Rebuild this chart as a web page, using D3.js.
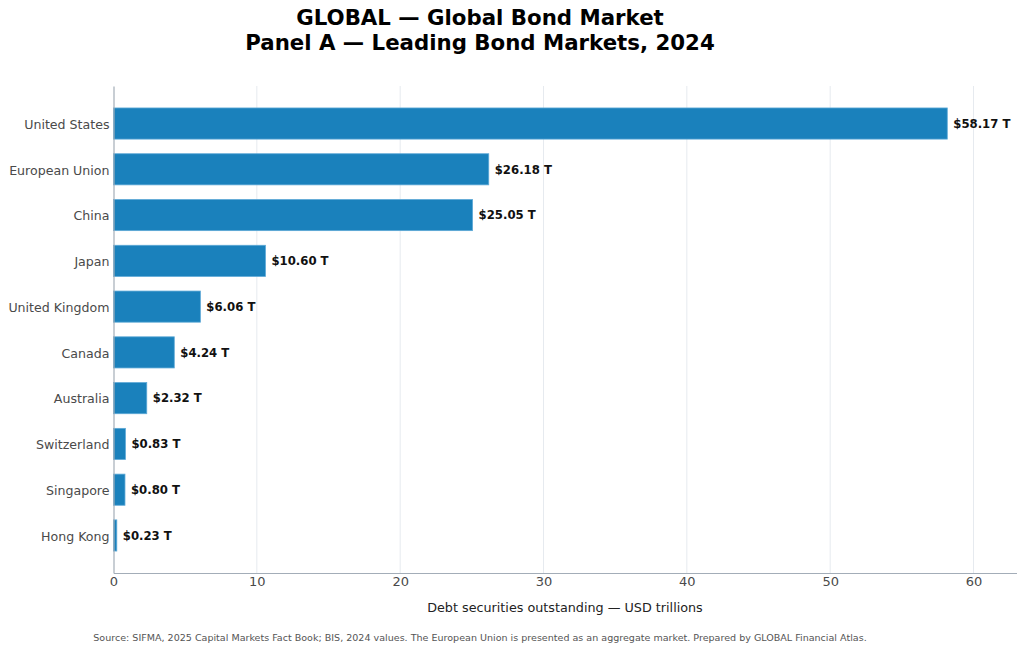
<!DOCTYPE html>
<html>
<head>
<meta charset="utf-8">
<script src="https://cdn.jsdelivr.net/npm/d3@7"></script>
<style>
  body { margin: 0; background: #fff; }
  svg { display: block; font-family: "DejaVu Sans", sans-serif; }
</style>
</head>
<body>
<script>
const markets = [
  "United States",
  "European Union",
  "China",
  "Japan",
  "United Kingdom",
  "Canada",
  "Australia",
  "Switzerland",
  "Singapore",
  "Hong Kong",
];
const outstanding = [58.17, 26.18, 25.05, 10.6, 6.06, 4.24, 2.32, 0.83, 0.8, 0.23];
const xTicks = [0, 10, 20, 30, 40, 50, 60];

const data = markets.map((name, i) => ({ name, value: outstanding[i] }));

const width = 1024;
const height = 651;
const plot = { left: 113.5, right: 1016.5, top: 86, bottom: 573 };

const xScale = d3.scaleLinear().domain([0, 63]).range([plot.left, plot.right]);

const yScale = d3
  .scaleBand()
  .domain(markets)
  .range([plot.top, plot.bottom])
  .paddingInner(0.32)
  .paddingOuter(0.48);

const svg = d3
  .select("body")
  .append("svg")
  .attr("width", width)
  .attr("height", height);

// grid
svg
  .append("g")
  .selectAll("line")
  .data(xTicks.slice(1))
  .enter()
  .append("line")
  .attr("x1", (d) => xScale(d))
  .attr("x2", (d) => xScale(d))
  .attr("y1", plot.top)
  .attr("y2", plot.bottom)
  .attr("stroke", "#e6eaef")
  .attr("stroke-width", 1);

// bars
const groups = svg
  .append("g")
  .selectAll("g")
  .data(data)
  .enter()
  .append("g")
  .attr("transform", (d) => `translate(0 ${yScale(d.name)})`);

groups
  .append("rect")
  .attr("x", xScale(0))
  .attr("width", (d) => xScale(d.value) - xScale(0))
  .attr("height", yScale.bandwidth())
  .attr("fill", "#1a81bc")
  .attr("stroke", "#5ca8d6")
  .attr("stroke-width", 0.8);

groups
  .append("text")
  .attr("x", (d) => xScale(d.value) + 6)
  .attr("y", yScale.bandwidth() / 2)
  .attr("dy", "0.37em")
  .text((d) => `$${d.value.toFixed(2)} T`)
  .attr("font-size", 11.7)
  .attr("font-weight", "bold")
  .attr("fill", "#111");

// axes
const xAxis = d3.axisBottom(xScale).tickValues(xTicks).tickSize(0).tickPadding(4);
const yAxis = d3.axisLeft(yScale).tickSize(0).tickPadding(4);

const gx = svg
  .append("g")
  .attr("transform", `translate(0 ${plot.bottom})`)
  .call(xAxis);
gx.select(".domain").attr("stroke", "#a3adb8").attr("stroke-width", 1.2);
gx.selectAll("text")
  .attr("font-size", 13)
  .attr("font-family", "DejaVu Sans, sans-serif")
  .attr("fill", "#4a4a4a");

const gy = svg
  .append("g")
  .attr("transform", `translate(${plot.left} 0)`)
  .call(yAxis);
gy.select(".domain").attr("stroke", "#a3adb8").attr("stroke-width", 1.2);
gy.selectAll("text")
  .attr("font-size", 12.6)
  .attr("dy", "0.42em")
  .attr("font-family", "DejaVu Sans, sans-serif")
  .attr("fill", "#4a4a4a");

// titles
const center = 480;
svg
  .append("text")
  .attr("x", center)
  .attr("y", 25)
  .attr("text-anchor", "middle")
  .attr("font-size", 21.3)
  .attr("font-weight", "bold")
  .attr("fill", "#000")
  .text("GLOBAL — Global Bond Market");

svg
  .append("text")
  .attr("x", center)
  .attr("y", 50)
  .attr("text-anchor", "middle")
  .attr("font-size", 21.3)
  .attr("font-weight", "bold")
  .attr("fill", "#000")
  .text("Panel A — Leading Bond Markets, 2024");

svg
  .append("text")
  .attr("x", (plot.left + plot.right) / 2)
  .attr("y", 612)
  .attr("text-anchor", "middle")
  .attr("font-size", 12.75)
  .attr("fill", "#222")
  .text("Debt securities outstanding — USD trillions");

svg
  .append("text")
  .attr("x", center)
  .attr("y", 641)
  .attr("text-anchor", "middle")
  .attr("font-size", 9.55)
  .attr("fill", "#555")
  .text(
    "Source: SIFMA, 2025 Capital Markets Fact Book; BIS, 2024 values. The European Union is presented as an aggregate market. Prepared by GLOBAL Financial Atlas."
  );
</script>
</body>
</html>
